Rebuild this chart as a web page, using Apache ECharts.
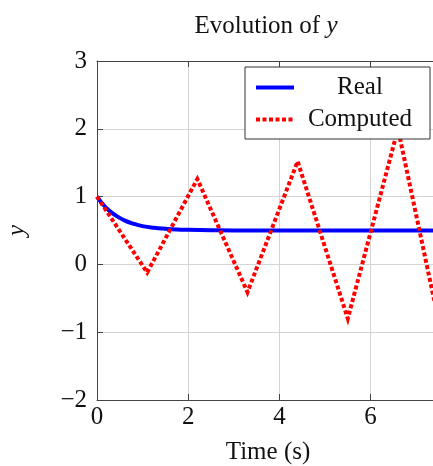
<!DOCTYPE html>
<html>
<head>
<meta charset="utf-8">
<script src="https://cdn.jsdelivr.net/npm/echarts@6/dist/echarts.min.js"></script>
<style>
  html, body { margin: 0; padding: 0; overflow: hidden; background: #fff; }
  #main { width: 445px; height: 466px; }
</style>
</head>
<body>
<div id="main"></div>
<script>
// valeurs
var realT = [0, 0.1, 0.2, 0.3, 0.45, 0.6, 0.8, 1.0, 1.25, 1.5, 1.75, 2, 2.5, 3, 4, 8];
var realY = [1, 0.91, 0.835, 0.775, 0.705, 0.65, 0.6, 0.565, 0.54, 0.525, 0.515, 0.51, 0.503, 0.5, 0.5, 0.5];

var compT = [0, 1.1, 2.2, 3.3, 4.4, 5.5, 6.6, 7.7];
var compY = [1, -0.12, 1.26, -0.41, 1.52, -0.8, 2.0, -1.5];

var xTicks = [0, 2, 4, 6];
var yTicks = [-2, -1, 0, 1, 2, 3];

var serif = 'Liberation Serif';
var fs = 25;
var axisCol = '#444';
var gridCol = '#d4d4d4';

function pairs(xs, ys) {
  var out = [];
  for (var i = 0; i < xs.length; i++) {
    out.push([xs[i], ys[i]]);
  }
  return out;
}

function fmtNum(v) {
  if (v < 0) return '\u2212' + (-v);
  return '' + v;
}

var chart = echarts.init(document.getElementById('main'));

var baseX = {
  type: 'value', min: 0, max: 7.5, interval: 2,
  axisLine: { show: true, onZero: false, lineStyle: { color: axisCol, width: 1 } },
  axisTick: { show: true, inside: true, length: 6, lineStyle: { color: axisCol } }
};
var baseY = {
  type: 'value', min: yTicks[0], max: yTicks[yTicks.length - 1], interval: 1,
  axisLine: { show: true, onZero: false, lineStyle: { color: axisCol, width: 1 } },
  axisTick: { show: true, inside: true, length: 6, lineStyle: { color: axisCol } }
};

chart.setOption({
  animation: false,
  title: {
    text: 'Evolution of {i|y}',
    left: 261, top: 9, textAlign: 'center',
    textStyle: {
      fontFamily: serif, fontSize: fs, fontWeight: 'normal', color: '#111',
      rich: { i: { fontFamily: serif, fontSize: fs, fontStyle: 'italic', color: '#111' } }
    }
  },
  grid: { left: 97, top: 61, width: 342, height: 339, outerBoundsMode: 'none', containLabel: false },
  legend: {
    orient: 'vertical', right: 15, top: 67, z: 20,
    padding: [8, 9, 7, 9], itemGap: 7,
    itemWidth: 38, itemHeight: 14, itemTextGap: 4,
    backgroundColor: '#fff', borderColor: '#333', borderWidth: 1,
    itemStyle: { opacity: 0 },
    lineStyle: { width: 4 },
    data: ['Real', 'Computed'],
    formatter: function (name) { return '{t|' + name + '}'; },
    textStyle: {
      rich: { t: { width: 122, align: 'center', fontFamily: serif, fontSize: fs, lineHeight: 24, color: '#111' } }
    }
  },
  xAxis: [
    Object.assign({}, baseX, {
      position: 'bottom',
      axisLabel: {
        margin: 5, fontFamily: serif, fontSize: fs, color: '#111', showMaxLabel: false,
        formatter: function (v) { return xTicks.indexOf(v) >= 0 ? fmtNum(v) : ''; }
      },
      splitLine: { show: true, lineStyle: { color: gridCol, width: 1 } },
      name: 'Time (s)', nameLocation: 'middle', nameGap: 40,
      nameTextStyle: { fontFamily: serif, fontSize: fs, color: '#111' }
    }),
    Object.assign({}, baseX, {
      position: 'top',
      axisLabel: { show: false },
      splitLine: { show: false }
    })
  ],
  yAxis: [
    Object.assign({}, baseY, {
      position: 'left',
      axisLabel: {
        margin: 10, fontFamily: serif, fontSize: fs, color: '#111',
        formatter: fmtNum
      },
      splitLine: { show: true, lineStyle: { color: gridCol, width: 1 } },
      name: 'y', nameLocation: 'middle', nameGap: 67, nameRotate: 90,
      nameTextStyle: { fontFamily: serif, fontSize: fs, fontStyle: 'italic', color: '#111' }
    }),
    Object.assign({}, baseY, {
      position: 'right',
      axisLabel: { show: false },
      splitLine: { show: false }
    })
  ],
  series: [
    {
      name: 'Real', type: 'line',
      data: pairs(realT, realY),
      smooth: true,
      showSymbol: false, symbol: 'none',
      lineStyle: { color: '#0000ff', width: 4 },
      itemStyle: { color: '#0000ff' },
      z: 2
    },
    {
      name: 'Computed', type: 'line',
      data: pairs(compT, compY),
      showSymbol: false, symbol: 'none',
      lineStyle: { color: '#ff0000', width: 4, type: [4, 2.5], cap: 'butt', join: 'miter' },
      itemStyle: { color: '#ff0000' },
      z: 3
    }
  ]
});
</script>
</body>
</html>
